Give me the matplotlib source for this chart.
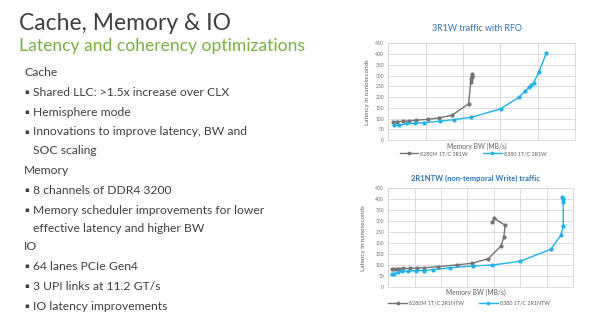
import matplotlib
matplotlib.use("Agg")
import matplotlib.pyplot as plt

plt.rcParams['font.family'] = ['Lato', 'DejaVu Sans']

# ---- slide text ----
title = "Cache, Memory & IO"
subtitle = "Latency and coherency optimizations"
body = [
    ("head", "Cache"),
    ("bullet", "Shared LLC: >1.5x increase over CLX"),
    ("bullet", "Hemisphere mode"),
    ("bullet", "Innovations to improve latency, BW and"),
    ("cont", "SOC scaling"),
    ("head", "Memory"),
    ("bullet", "8 channels of DDR4 3200"),
    ("bullet", "Memory scheduler improvements for lower"),
    ("cont", "effective latency and higher BW"),
    ("head", "IO"),
    ("bullet", "64 lanes PCIe Gen4"),
    ("bullet", "3 UPI links at 11.2 GT/s"),
    ("bullet", "IO latency improvements"),
]
body_y = [72, 93, 113, 132, 150, 170, 190, 210, 228, 247, 267, 287, 306]

# ---- chart 1: 3R1W traffic with RFO ----
c1_title = "3R1W traffic with RFO"
c1_gray_label = "8280M 1T/C 3R1W"
c1_gray_bw = [5.9, 11.2, 19.3, 27.3, 36.6, 52.7, 67.8, 85.2, 107.5, 110.5, 111.0, 111.5, 112.0, 112.2]
c1_gray_lat = [85, 86, 87, 89, 92, 96, 103, 115, 168, 272, 282, 292, 300, 306]
c1_blue_label = "8380 1T/C 3R1W"
c1_blue_bw = [7.0, 14.5, 25.4, 35.2, 48.0, 68.6, 87.8, 111.4, 150.3, 175.0, 182.8, 188.1, 191.7, 194.6, 201.5, 211.8]
c1_blue_lat = [68, 68, 77, 78, 81, 87, 95, 106, 145, 199, 226, 245, 258, 266, 315, 407]

# ---- chart 2: 2R1NTW traffic ----
c2_title = "2R1NTW (non-temporal Write) traffic"
c2_gray_label = "8280M 1T/C 2R1NTW"
c2_gray_bw = [6.4, 10.8, 15.8, 20.8, 27.2, 40.9, 53.6, 67.9, 95.1, 130.2, 158.5, 189.5, 214.0, 219.0, 221.5, 200.7, 196.2]
c2_gray_lat = [83, 83, 85, 85, 86, 86, 88, 89, 94, 102, 109, 130, 189, 230, 282, 314, 295]
c2_blue_label = "8380 1T/C 2R1NTW"
c2_blue_bw = [6.4, 10.8, 17.7, 25.3, 36.6, 52.3, 67.9, 84.9, 117.7, 160.4, 197.0, 249.5, 307.5, 327.0, 331.5, 331.5, 330.5, 330.0]
c2_blue_lat = [61, 62, 68, 73, 74, 76, 76, 80, 89, 97, 101, 118, 172, 236, 279, 388, 402, 409]

y_ticks = list(range(0, 451, 50))
x_label = "Memory BW (MB/s)"
y_label = "Latency in nanoseconds"

W, H = 600, 329
fig = plt.figure(figsize=(W / 100, H / 100), dpi=100)
fig.patch.set_facecolor("white")


def px(x, y):
    return x / W, 1 - y / H


text_col = "#404040"
fig.text(*px(19, 24), title, fontsize=16.5, color=text_col, va="center", ha="left")
fig.text(*px(19, 46), subtitle, fontsize=12.6, color="#77b13f", va="center", ha="left")
for (kind, txt), yy in zip(body, body_y):
    if kind == "head":
        fig.text(*px(24, yy), txt, fontsize=8.7, color=text_col, va="center", ha="left")
    else:
        if kind == "bullet":
            fig.text(*px(24.5, yy - 0.5), "\u25aa", fontsize=5, color=text_col,
                     va="center", ha="left", family=["DejaVu Sans"])
        fig.text(*px(33, yy), txt, fontsize=8.7, color=text_col, va="center", ha="left")

gray = "#747474"
blue = "#1cb3ef"
grid_col = "#d6d6d6"
title_blue = "#2e75b6"


def draw_chart(box, xmax, ttl, bold, ttl_size, series, ttl_y, xlab_y, ylab_x, leg_pos):
    left, top, right, bottom = box
    ax = fig.add_axes([left / W, 1 - bottom / H, (right - left) / W, (bottom - top) / H])
    ax.set_xlim(0, xmax)
    ax.set_ylim(0, 450)
    ax.set_yticks(y_ticks)
    ax.set_xticks(range(0, xmax + 1, 50))
    ax.set_xticklabels([])
    ax.tick_params(axis="both", length=0, labelsize=3.6, labelcolor="#707070", pad=3)
    ax.grid(True, color=grid_col, linewidth=0.6)
    ax.set_axisbelow(True)
    for s in ax.spines.values():
        s.set_color(grid_col)
        s.set_linewidth(0.6)
    handles = []
    for bw, lat, col, lab in series:
        h, = ax.plot(bw, lat, color=col, linewidth=1.0, marker="o", markersize=3.0,
                     markeredgewidth=0, label=lab)
        handles.append(h)
    cx = (left + right) / 2
    fig.text(*px(cx - 5, ttl_y), ttl, fontsize=ttl_size, color=title_blue, ha="center", va="center",
             fontweight="bold" if bold else "normal")
    fig.text(*px(cx - 5, xlab_y), x_label, fontsize=4.8, color="#606060", ha="center", va="center")
    fig.text(*px(ylab_x, (top + bottom) / 2), y_label, fontsize=4.5, color="#606060",
             ha="center", va="center", rotation=90)
    leg = fig.legend(handles=handles, loc="center", bbox_to_anchor=px(*leg_pos), ncol=2,
                     frameon=False, fontsize=3.9, handlelength=3.4, columnspacing=2.8,
                     handletextpad=0.4, markerscale=0.9)
    for t in leg.get_texts():
        t.set_color("#606060")
    return ax


draw_chart((388.3, 43.3, 575, 140), 250, c1_title, False, 6.4,
           [(c1_gray_bw, c1_gray_lat, gray, c1_gray_label),
            (c1_blue_bw, c1_blue_lat, blue, c1_blue_label)],
           ttl_y=28.5, xlab_y=146, ylab_x=368, leg_pos=(473, 153.5))

draw_chart((388.3, 188.3, 573, 287.3), 350, c2_title, True, 5.5,
           [(c2_gray_bw, c2_gray_lat, gray, c2_gray_label),
            (c2_blue_bw, c2_blue_lat, blue, c2_blue_label)],
           ttl_y=178.5, xlab_y=292.7, ylab_x=363, leg_pos=(469, 303))

fig.savefig("out.png", dpi=100, facecolor="white")
